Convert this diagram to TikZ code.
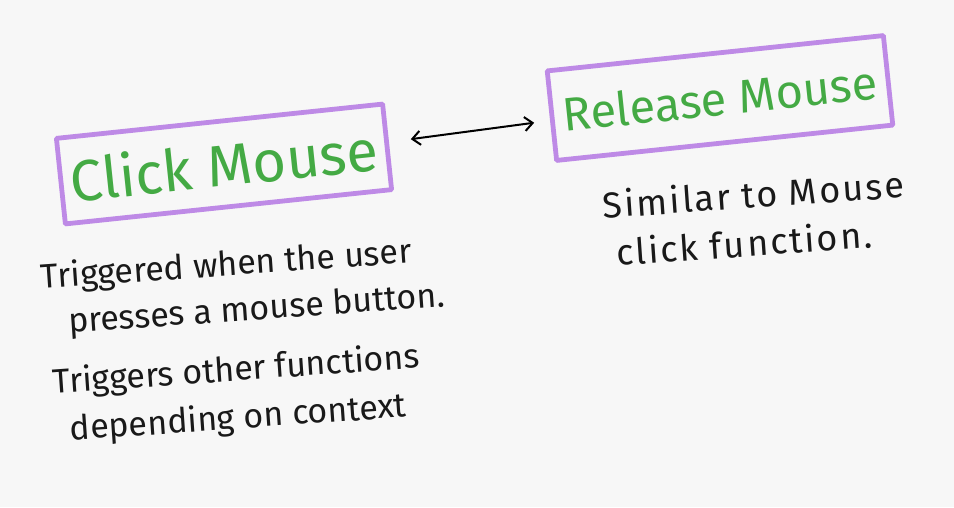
\documentclass[tikz,border=0pt]{standalone}
\usepackage{fontspec}
\setmainfont{Fira Sans}
\definecolor{bgcol}{HTML}{F7F7F7}
\definecolor{boxpurple}{HTML}{BE8AE6}
\definecolor{textgreen}{HTML}{44AA44}
\usetikzlibrary{arrows.meta}
\begin{document}
\begin{tikzpicture}[x=1pt,y=-1pt,
  eventbox/.style={draw=boxpurple, line width=4.8pt, rounded corners=1pt,
    text=textgreen, inner sep=0pt, align=center},
  note/.style={align=left, text=black!90, rotate=4},
  link/.style={{Straight Barb[length=8pt,width=14pt]}-{Straight Barb[length=8pt,width=14pt]}, line width=2pt}
]
\fill[bgcol] (0,0) rectangle (954,507);
\useasboundingbox (0,0) rectangle (954,507);

\node[eventbox, minimum width=328pt, minimum height=86pt, rotate=6,
  font=\fontsize{58}{60}\selectfont] (click) at (224,164) {Click Mouse};
\node[eventbox, minimum width=338pt, minimum height=90pt, rotate=6,
  font=\fontsize{47}{52}\selectfont] (release) at (720,98) {Release Mouse};

\draw[link, shorten <=22pt, shorten >=16pt] (click) -- (release);

\node[note, font=\fontsize{34}{46}\selectfont] (n1) at (243,288) {Triggered when the user\\\hspace*{24pt}presses a mouse button.};
\node[note, font=\fontsize{34}{48}\selectfont] (n2) at (238,395) {Triggers other functions\\\hspace*{14pt}depending on context};
\node[note, font=\fontsize{36}{48}\selectfont\addfontfeatures{LetterSpace=6}] (n3) at (755,218) {Similar to Mouse\\\hspace*{10pt}click function.};
\end{tikzpicture}
\end{document}
